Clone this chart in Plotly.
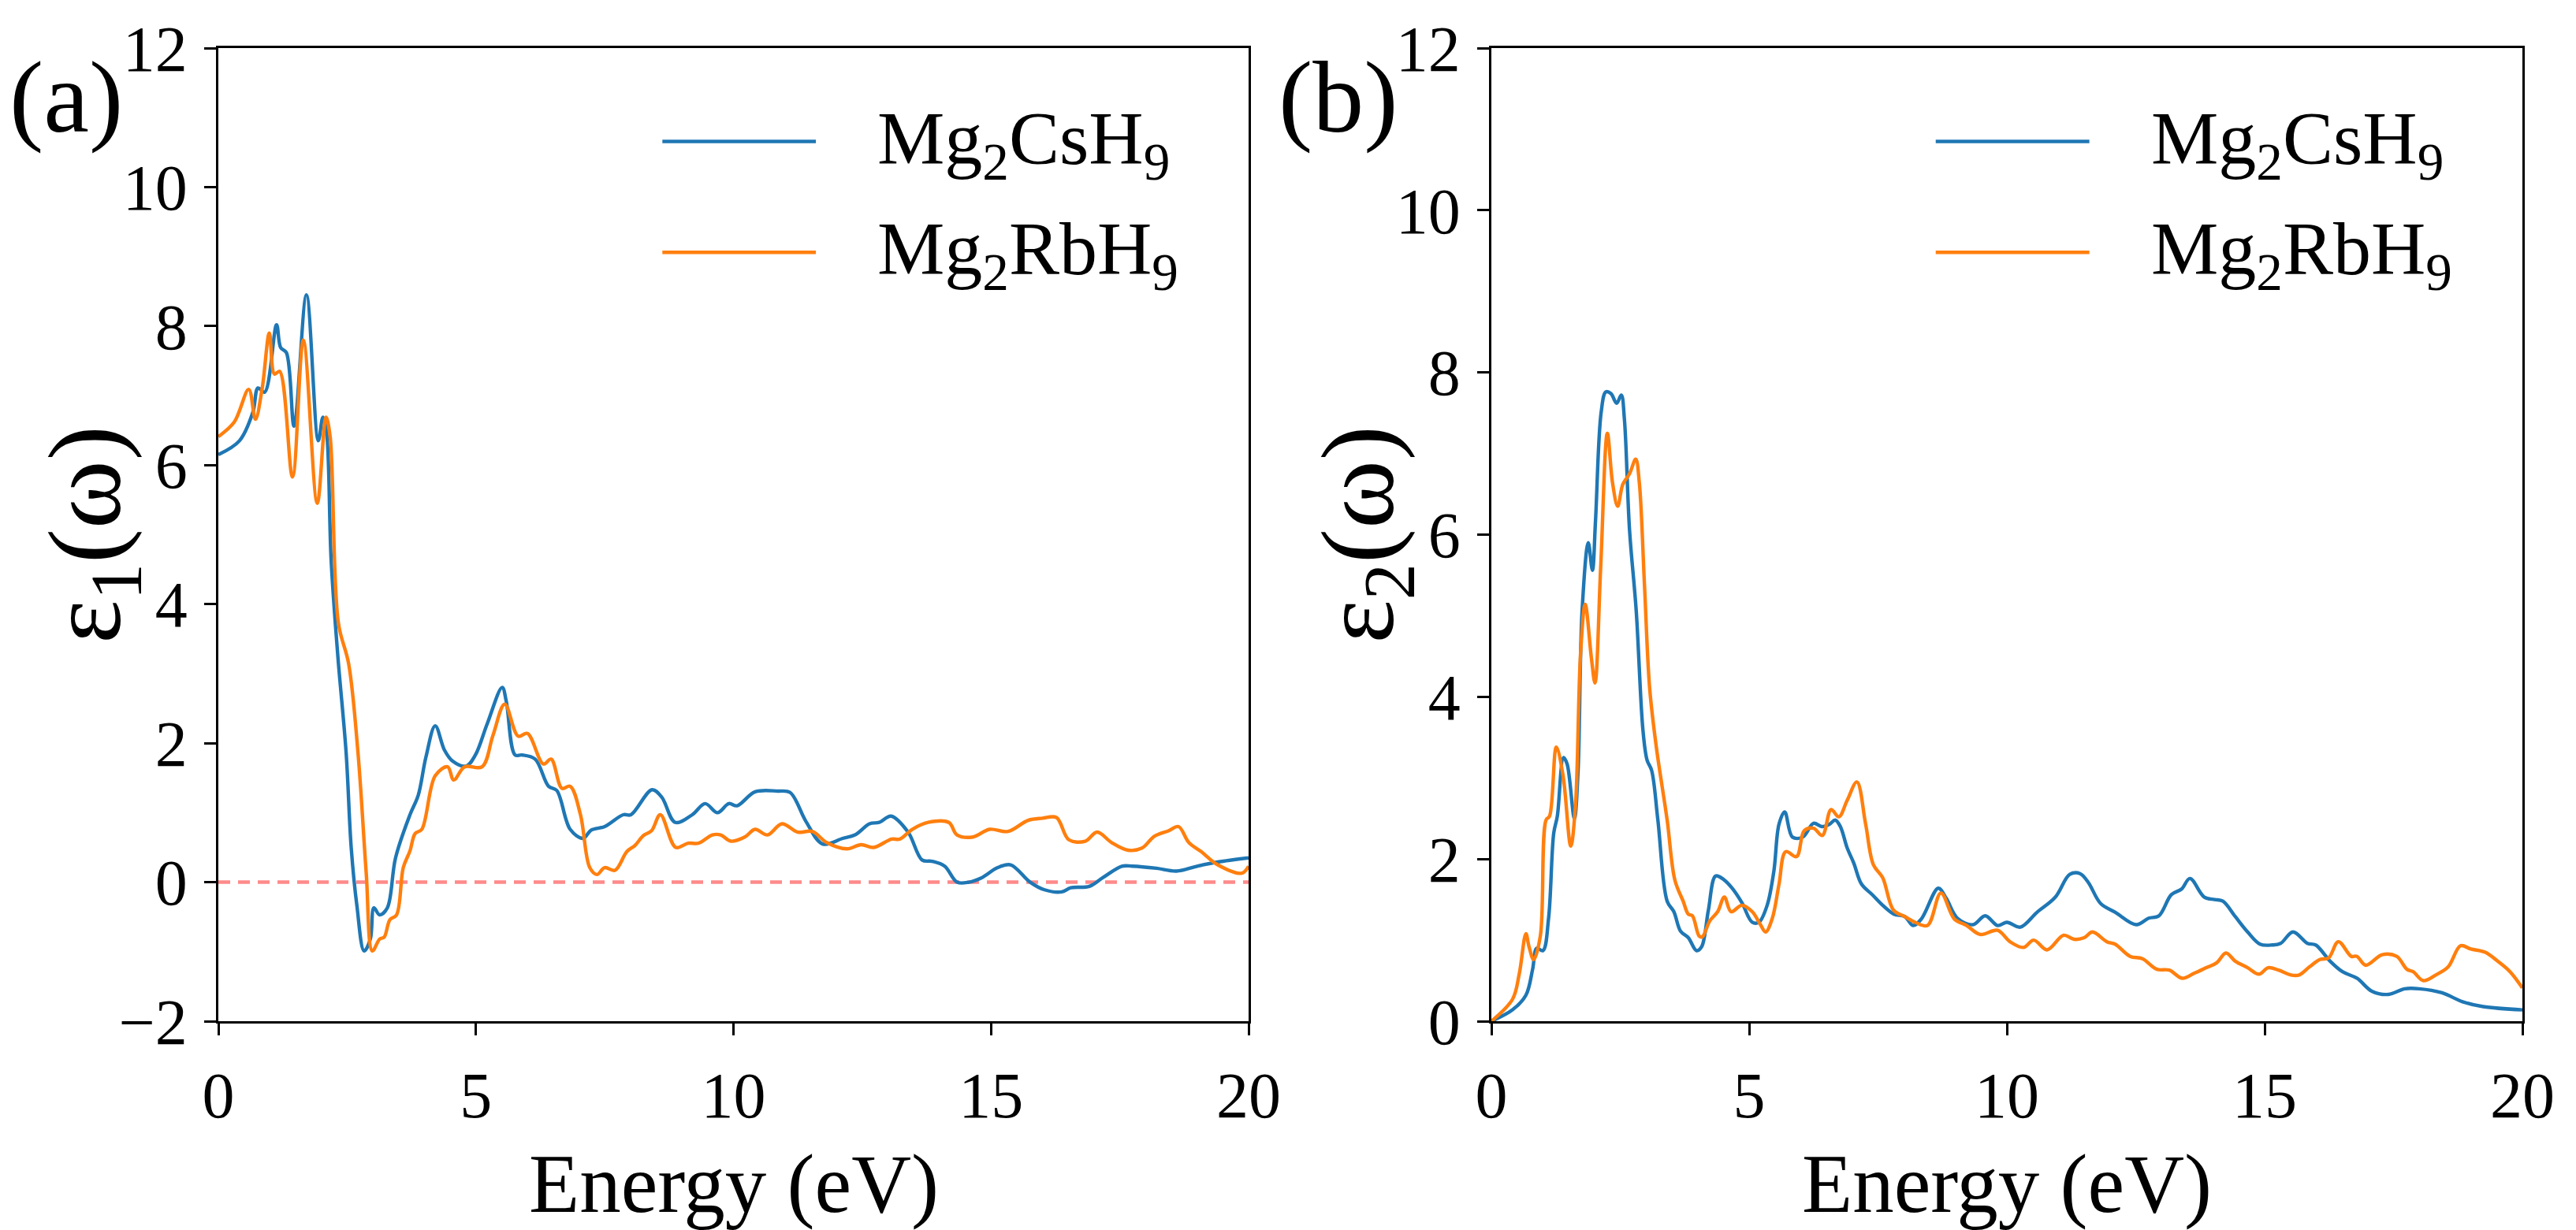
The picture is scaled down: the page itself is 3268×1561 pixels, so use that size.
import plotly.graph_objects as go

# ---------------- data ----------------
# (a) real part eps1
e1_cs_E = [0.00, 0.41, 0.67, 0.77, 0.90, 1.13, 1.21, 1.32, 1.47, 1.71, 1.94, 2.03, 2.10, 2.19, 2.32,
           2.48, 2.58, 2.69, 2.83, 2.95, 3.02, 3.13, 3.28, 3.44, 3.72, 3.88, 4.03, 4.21, 4.39, 4.55,
           4.81, 4.99, 5.22, 5.51, 5.59, 5.76, 5.89, 6.15, 6.41, 6.57, 6.83, 7.08, 7.24, 7.50, 7.86,
           8.01, 8.42, 8.61, 8.87, 9.20, 9.45, 9.69, 9.91, 10.07, 10.42, 10.86, 11.10, 11.41, 11.73,
           12.12, 12.36, 12.64, 12.83, 13.06, 13.39, 13.66, 13.86, 14.10, 14.34, 14.57, 14.81, 15.13,
           15.38, 15.76, 16.04, 16.37, 16.55, 16.91, 17.18, 17.54, 17.74, 18.21, 18.60, 19.00, 19.40, 20.00]
e1_cs = [6.15, 6.35, 6.76, 7.11, 7.05, 8.02, 7.69, 7.62, 6.56, 8.45, 6.35, 6.69, 6.48, 4.63, 3.25,
         1.87, 0.49, -0.34, -0.99, -0.82, -0.37, -0.47, -0.37, 0.35, 0.97, 1.25, 1.80, 2.25, 1.90, 1.74,
         1.67, 1.83, 2.28, 2.80, 2.60, 1.83, 1.83, 1.77, 1.38, 1.32, 0.76, 0.63, 0.75, 0.80, 0.97,
         0.97, 1.33, 1.22, 0.86, 0.97, 1.13, 1.00, 1.13, 1.10, 1.30, 1.31, 1.29, 0.87, 0.55,
         0.63, 0.68, 0.84, 0.86, 0.95, 0.72, 0.32, 0.30, 0.23, 0.00, 0.00, 0.06, 0.21,
         0.25, 0.00, -0.11, -0.14, -0.08, -0.06, 0.07, 0.23, 0.23, 0.20, 0.16, 0.23, 0.29, 0.35]

e1_rb_E = [0.00, 0.31, 0.59, 0.72, 0.85, 0.99, 1.09, 1.19, 1.44, 1.65, 1.92, 2.09, 2.17, 2.33, 2.53,
           2.71, 2.87, 2.99, 3.13, 3.22, 3.33, 3.46, 3.59, 3.72, 3.82, 3.95, 4.21, 4.45, 4.57, 4.78,
           5.12, 5.33, 5.56, 5.82, 6.00, 6.31, 6.46, 6.67, 6.83, 7.03, 7.21, 7.35, 7.50, 7.70, 7.93,
           8.09, 8.25, 8.41, 8.58, 8.88, 9.12, 9.32, 9.59, 9.75, 9.95, 10.22, 10.42, 10.66, 10.94,
           11.25, 11.53, 11.81, 12.20, 12.48, 12.72, 13.07, 13.23, 13.47, 13.78, 14.18, 14.34, 14.65,
           14.97, 15.33, 15.72, 16.00, 16.27, 16.51, 16.83, 17.06, 17.34, 17.66, 17.93, 18.17, 18.45,
           18.64, 18.84, 19.08, 19.40, 19.87, 20.00]
e1_rb = [6.41, 6.62, 7.09, 6.66, 7.10, 7.90, 7.31, 7.35, 5.83, 7.80, 5.45, 6.69, 6.41, 3.73, 3.14,
         1.87, 0.14, -0.99, -0.82, -0.79, -0.54, -0.47, 0.21, 0.45, 0.70, 0.76, 1.53, 1.66, 1.47, 1.66,
         1.66, 2.11, 2.56, 2.10, 2.14, 1.70, 1.77, 1.35, 1.38, 0.97, 0.21, 0.11, 0.21, 0.17, 0.44,
         0.53, 0.67, 0.74, 0.97, 0.50, 0.56, 0.56, 0.68, 0.68, 0.59, 0.65, 0.76, 0.68, 0.84,
         0.72, 0.73, 0.57, 0.48, 0.54, 0.50, 0.62, 0.62, 0.76, 0.86, 0.86, 0.68, 0.65,
         0.76, 0.73, 0.89, 0.92, 0.93, 0.61, 0.59, 0.72, 0.57, 0.46, 0.49, 0.66, 0.74,
         0.80, 0.57, 0.44, 0.25, 0.13, 0.23]

# (b) imaginary part eps2
e2_cs_E = [0.00, 0.41, 0.67, 0.80, 0.88, 1.00, 1.11, 1.21, 1.28, 1.40, 1.47, 1.61, 1.68, 1.76, 1.88,
           1.96, 2.02, 2.13, 2.22, 2.32, 2.43, 2.52, 2.58, 2.68, 2.81, 2.94, 3.02, 3.11, 3.23, 3.41,
           3.54, 3.67, 3.82, 3.98, 4.08, 4.21, 4.35, 4.50, 4.67, 4.86, 5.06, 5.19, 5.35, 5.48, 5.58,
           5.69, 5.84, 6.04, 6.25, 6.41, 6.56, 6.67, 6.77, 6.90, 7.03, 7.18, 7.39, 7.59, 7.81, 8.02,
           8.18, 8.34, 8.67, 8.82, 9.04, 9.34, 9.58, 9.82, 10.00, 10.26, 10.58, 10.94, 11.22, 11.42,
           11.58, 11.82, 12.11, 12.51, 12.75, 12.95, 13.19, 13.39, 13.55, 13.83, 14.03, 14.19, 14.43,
           14.67, 14.91, 15.15, 15.31, 15.55, 15.83, 15.99, 16.27, 16.51, 16.79, 17.08, 17.40, 17.72,
           18.00, 18.44, 18.84, 19.24, 20.00]
e2_cs = [0.00, 0.14, 0.32, 0.64, 0.90, 0.87, 1.27, 2.32, 2.53, 3.25, 3.17, 2.50, 3.06, 5.06, 5.90,
         5.56, 6.17, 7.51, 7.76, 7.74, 7.62, 7.72, 7.43, 6.06, 5.06, 3.59, 3.22, 3.09, 2.48, 1.48,
         1.35, 1.11, 1.03, 0.87, 0.92, 1.37, 1.79, 1.75, 1.64, 1.46, 1.22, 1.22, 1.43, 1.85, 2.43,
         2.58, 2.27, 2.27, 2.44, 2.40, 2.43, 2.48, 2.40, 2.14, 1.95, 1.69, 1.56, 1.43, 1.32, 1.29,
         1.18, 1.26, 1.64, 1.52, 1.27, 1.19, 1.30, 1.18, 1.22, 1.16, 1.34, 1.53, 1.81, 1.82,
         1.71, 1.45, 1.34, 1.19, 1.27, 1.30, 1.56, 1.63, 1.76, 1.53, 1.50, 1.48, 1.29,
         1.10, 0.95, 0.94, 0.96, 1.10, 0.96, 0.94, 0.74, 0.61, 0.53, 0.37, 0.33, 0.40,
         0.40, 0.35, 0.24, 0.18, 0.14]

e2_rb_E = [0.00, 0.41, 0.54, 0.67, 0.73, 0.82, 0.95, 1.06, 1.13, 1.26, 1.39, 1.54, 1.63, 1.73, 1.82,
           1.94, 2.01, 2.12, 2.25, 2.35, 2.45, 2.55, 2.68, 2.80, 2.87, 2.97, 3.07, 3.20, 3.41, 3.56,
           3.72, 3.82, 3.90, 4.03, 4.09, 4.24, 4.39, 4.52, 4.65, 4.86, 5.06, 5.22, 5.32, 5.45, 5.58,
           5.71, 5.92, 6.07, 6.25, 6.42, 6.59, 6.74, 6.90, 7.09, 7.26, 7.41, 7.59, 7.80, 8.02, 8.22,
           8.46, 8.72, 8.98, 9.22, 9.48, 9.82, 10.06, 10.32, 10.52, 10.78, 11.10, 11.30, 11.50, 11.66,
           11.94, 12.10, 12.39, 12.63, 12.91, 13.15, 13.40, 13.63, 13.87, 14.07, 14.25, 14.43, 14.67,
           14.89, 15.07, 15.27, 15.51, 15.67, 15.87, 16.07, 16.24, 16.43, 16.68, 16.79, 16.96, 17.28,
           17.56, 17.76, 17.88, 18.08, 18.32, 18.56, 18.80, 19.00, 19.28, 19.52, 19.76, 20.00]
e2_rb = [0.00, 0.27, 0.58, 1.08, 0.92, 0.76, 1.05, 2.48, 2.53, 3.38, 3.03, 2.16, 2.64, 4.53, 5.14,
         4.48, 4.17, 5.59, 7.25, 6.64, 6.35, 6.62, 6.75, 6.93, 6.64, 5.38, 4.11, 3.38, 2.48, 1.74,
         1.48, 1.32, 1.30, 1.05, 1.04, 1.24, 1.35, 1.53, 1.35, 1.43, 1.35, 1.19, 1.10, 1.27, 1.69,
         2.09, 2.03, 2.35, 2.38, 2.29, 2.61, 2.52, 2.72, 2.95, 2.43, 1.93, 1.77, 1.37, 1.29, 1.22,
         1.18, 1.58, 1.26, 1.18, 1.07, 1.12, 0.98, 0.91, 1.00, 0.88, 1.06, 1.01, 1.03, 1.10,
         0.98, 0.95, 0.80, 0.77, 0.64, 0.63, 0.53, 0.59, 0.66, 0.72, 0.84, 0.74, 0.66,
         0.58, 0.66, 0.63, 0.57, 0.57, 0.67, 0.76, 0.78, 0.98, 0.80, 0.80, 0.69, 0.82,
         0.80, 0.64, 0.61, 0.50, 0.57, 0.67, 0.93, 0.89, 0.85, 0.74, 0.61, 0.41]

zero_E = [0, 20]
zero_v = [0, 0]

names = ['Mg<sub>2</sub>CsH<sub>9</sub>', 'Mg<sub>2</sub>RbH<sub>9</sub>']
colors = ['#1f77b4', '#ff7f0e']
x_ticks = [0, 5, 10, 15, 20]
y1_ticks = [-2, 0, 2, 4, 6, 8, 10, 12]
y2_ticks = [0, 2, 4, 6, 8, 10, 12]

FONT = 'Liberation Serif'
W, H = 3268, 1561
OFF = 8  # the page body adds an 8px margin, pull the plot areas back by that much

fig = go.Figure()

line_kw = dict(mode='lines', line_shape='spline', showlegend=False, hoverinfo='skip')
fig.add_trace(go.Scatter(x=zero_E, y=zero_v, mode='lines', showlegend=False, hoverinfo='skip',
                         line=dict(color='rgba(255,60,60,0.6)', width=4.5, dash='15px,10px'),
                         xaxis='x', yaxis='y'))
fig.add_trace(go.Scatter(x=e1_cs_E, y=e1_cs, line=dict(color=colors[0], width=4.4),
                         xaxis='x', yaxis='y', **line_kw))
fig.add_trace(go.Scatter(x=e1_rb_E, y=e1_rb, line=dict(color=colors[1], width=4.4),
                         xaxis='x', yaxis='y', **line_kw))
fig.add_trace(go.Scatter(x=e2_cs_E, y=e2_cs, line=dict(color=colors[0], width=4.4),
                         xaxis='x2', yaxis='y2', **line_kw))
fig.add_trace(go.Scatter(x=e2_rb_E, y=e2_rb, line=dict(color=colors[1], width=4.4),
                         xaxis='x2', yaxis='y2', **line_kw))

axis_kw = dict(showline=True, linecolor='black', linewidth=2.5, mirror=True,
               ticks='outside', ticklen=15, tickwidth=2.5, tickcolor='black',
               showgrid=False, zeroline=False, automargin=False,
               tickfont=dict(family=FONT, size=82, color='black'))

x1_dom = [(277 - OFF) / W, (1584 - OFF) / W]
x2_dom = [(1892 - OFF) / W, (3200 - OFF) / W]
y_dom = [(H - 1296 + OFF) / H, (H - 61 + OFF) / H]

fig.update_layout(
    width=W, height=H,
    margin=dict(l=0, r=0, t=0, b=0, autoexpand=False),
    paper_bgcolor='white', plot_bgcolor='white',
    font=dict(family=FONT, color='black'),
    xaxis=dict(domain=x1_dom, range=[0, 20], tickvals=x_ticks, anchor='y',
               ticklabelstandoff=6, **axis_kw),
    yaxis=dict(domain=y_dom, range=[-2, 12], tickvals=y1_ticks, anchor='x',
               ticklabelstandoff=5, **axis_kw),
    xaxis2=dict(domain=x2_dom, range=[0, 20], tickvals=x_ticks, anchor='y2',
                ticklabelstandoff=6, **axis_kw),
    yaxis2=dict(domain=y_dom, range=[0, 12], tickvals=y2_ticks, anchor='x2',
                ticklabelstandoff=5, **axis_kw),
)

ann = []
shapes = []
for ax, lab, ylab in [('', '(a)', 'ε<sub>1</sub>(ω)'), ('2', '(b)', 'ε<sub>2</sub>(ω)')]:
    xr, yr = 'x%s domain' % ax, 'y%s domain' % ax
    # axis titles
    ann.append(dict(text='Energy (eV)', xref=xr, yref=yr, x=0.5, y=-0.167, xanchor='center',
                    yanchor='middle', showarrow=False, font=dict(family=FONT, size=105)))
    ann.append(dict(text=ylab, xref=xr, yref=yr, x=-0.123, y=0.5, xanchor='center',
                    yanchor='middle', textangle=-90, showarrow=False,
                    font=dict(family=FONT, size=132)))
    # panel labels
    ann.append(dict(text=lab, xref=xr, yref=yr, x=-0.148, y=0.95,
                    xanchor='center', yanchor='middle', showarrow=False,
                    font=dict(family=FONT, size=130)))
    # legend drawn by hand so the sample lines are long like the original
    for i, (nm, c) in enumerate(zip(names, colors)):
        yy = 0.904 - 0.114 * i
        shapes.append(dict(type='line', xref=xr, yref=yr, x0=0.431, x1=0.580, y0=yy, y1=yy,
                           line=dict(color=c, width=4.5)))
        ann.append(dict(text=nm, xref=xr, yref=yr, x=0.638, y=yy - 0.002, xanchor='left',
                        yanchor='middle', showarrow=False, font=dict(family=FONT, size=96)))

fig.update_layout(annotations=ann, shapes=shapes)

fig.write_html("out.html")
